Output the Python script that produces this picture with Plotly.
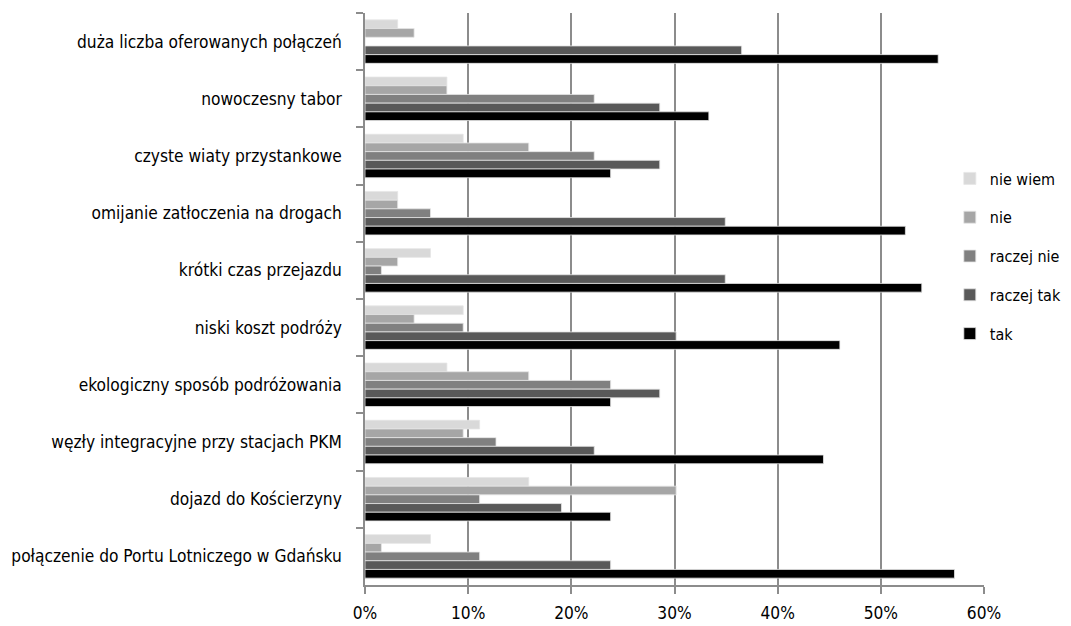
import plotly.graph_objects as go

categories = [
    "duża liczba oferowanych połączeń",
    "nowoczesny tabor",
    "czyste wiaty przystankowe",
    "omijanie zatłoczenia na drogach",
    "krótki czas przejazdu",
    "niski koszt podróży",
    "ekologiczny sposób podróżowania",
    "węzły integracyjne przy stacjach PKM",
    "dojazd do Kościerzyny",
    "połączenie do Portu Lotniczego w Gdańsku",
]

nie_wiem   = [3.17, 7.94, 9.52, 3.17, 6.35, 9.52, 7.94, 11.11, 15.87, 6.35]
nie        = [4.76, 7.94, 15.87, 3.17, 3.17, 4.76, 15.87, 9.52, 30.16, 1.59]
raczej_nie = [0.00, 22.22, 22.22, 6.35, 1.59, 9.52, 23.81, 12.70, 11.11, 11.11]
raczej_tak = [36.51, 28.57, 28.57, 34.92, 34.92, 30.16, 28.57, 22.22, 19.05, 23.81]
tak        = [55.56, 33.33, 23.81, 52.38, 53.97, 46.03, 23.81, 44.44, 23.81, 57.14]

series_names = ["nie wiem", "nie", "raczej nie", "raczej tak", "tak"]
series_values = [nie_wiem, nie, raczej_nie, raczej_tak, tak]
series_colors = ["#d9d9d9", "#a6a6a6", "#808080", "#595959", "#000000"]

x_ticks = [0, 10, 20, 30, 40, 50, 60]
x_tick_labels = ["0%", "10%", "20%", "30%", "40%", "50%", "60%"]

FONT = "DejaVu Sans Condensed, Liberation Sans Narrow, sans-serif"

fig = go.Figure()
for name, vals, col in zip(series_names, series_values, series_colors):
    fig.add_trace(go.Bar(
        y=categories, x=vals, name=name, orientation="h",
        marker=dict(color=col, line=dict(color="#e6e6e6", width=0.8)),
        legendgroup=name,
    ))

fig.update_layout(
    barmode="group",
    bargap=0.24,
    bargroupgap=0,
    width=1063, height=618,
    margin=dict(l=357, r=87, t=5, b=41, autoexpand=False),
    plot_bgcolor="white",
    paper_bgcolor="white",
    font=dict(family=FONT, size=17.2, color="#000000"),
    legend=dict(
        x=0.886, xref="container", xanchor="left",
        y=0.5987, yref="container", yanchor="middle",
        bgcolor="white",
        font=dict(family=FONT, size=16, color="#000000"),
        traceorder="grouped",
        tracegroupgap=15,
        itemwidth=30,
    ),
)
fig.update_xaxes(
    range=[0, 60], tickvals=x_ticks, ticktext=x_tick_labels,
    showgrid=True, gridcolor="#8c8c8c", gridwidth=1.5,
    showline=True, linecolor="#8c8c8c", linewidth=1.5,
    ticks="outside", ticklen=7, tickcolor="#8c8c8c", tickwidth=1.5,
    zeroline=False,
    tickfont=dict(family=FONT, size=17.2),
    ticklabelstandoff=5,
)
fig.update_yaxes(
    autorange="reversed",
    showgrid=False,
    showline=True, linecolor="#8c8c8c", linewidth=1.5,
    ticks="outside", ticklen=7, tickcolor="#8c8c8c", tickwidth=1.5,
    tickson="boundaries",
    tickfont=dict(family=FONT, size=17.2),
    ticklabelstandoff=18,
)

fig.write_html("out.html")
